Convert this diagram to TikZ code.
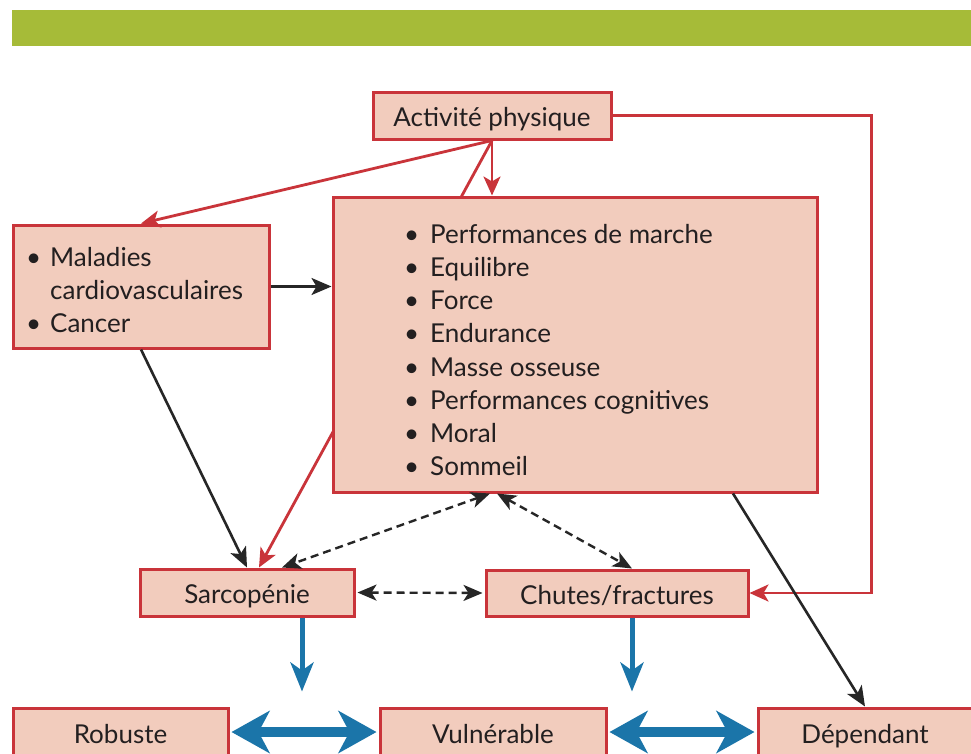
\documentclass[tikz,border=0pt]{standalone}
\usepackage{fontspec}
\setmainfont{Lato}
\usetikzlibrary{arrows.meta}
\definecolor{boxred}{HTML}{C9343A}
\definecolor{boxfill}{HTML}{F2CCBD}
\definecolor{barG}{HTML}{A6BB38}
\definecolor{arrB}{HTML}{1B75A9}
\definecolor{txt}{HTML}{231F20}
\begin{document}
\begin{tikzpicture}[x=1pt,y=-1pt,
  box/.style={draw=boxred, fill=boxfill, line width=3pt, inner sep=0pt, text=txt, text height=24pt, text depth=2pt, font=\fontsize{26}{33}\selectfont},
  listtext/.style={inner sep=0pt, text=txt, align=left, font=\fontsize{26}{33.2}\selectfont},
  redarr/.style={draw=boxred, line width=2.8pt, -{Stealth[length=19pt,width=17pt,inset=5pt]}},
  blkarr/.style={draw=black!85, line width=2.6pt, -{Stealth[length=20pt,width=17pt,inset=5pt]}},
  dasharr/.style={draw=black!85, line width=2.4pt, dash pattern=on 8pt off 5pt, {Stealth[length=19pt,width=16pt,inset=5pt]}-{Stealth[length=19pt,width=16pt,inset=5pt]}},
  bluev/.style={draw=arrB, line width=5pt, -{Stealth[length=29pt,width=23pt,inset=8pt]}},
  blueh/.style={draw=arrB, line width=9.5pt, {Stealth[length=38pt,width=42pt,inset=11pt]}-{Stealth[length=38pt,width=42pt,inset=11pt]}},
]
\clip (0,0) rectangle (971,753);
\fill[white] (0,0) rectangle (971,753);
\fill[barG] (12,10) rectangle (971,46);

\node[box, minimum width=238pt, minimum height=47pt] (ap) at (492,115.5) {Activité physique};
\node[box, minimum width=256pt, minimum height=123pt, text height=, text depth=] (mal) at (141,286.5) {};
\node[listtext, anchor=west] (maltext) at (26,290) {\makebox[24pt][l]{\textbullet}Maladies\\\hspace*{24pt}cardiovasculaires\\\makebox[24pt][l]{\textbullet}Cancer};
\node[box, minimum width=214pt, minimum height=47pt] (sarc) at (247,592.5) {Sarcopénie};
\node[box, minimum width=262pt, minimum height=46pt] (chutes) at (617,593) {Chutes/fractures};
\node[box, minimum width=215pt, minimum height=48pt] (rob) at (120.5,732) {Robuste};
\node[box, minimum width=226pt, minimum height=48pt] (vul) at (493,732) {Vulnérable};
\node[box, minimum width=214pt, minimum height=48pt] (dep) at (865,732) {Dépendant};

% red line from activity to sarcopenia, passing behind the large box
\draw[redarr] (ap.south) -- ([xshift=12pt]sarc.north);

\node[box, minimum width=484pt, minimum height=295pt, text height=, text depth=] (big) at (575,344.5) {};
\node[listtext, anchor=west] (bigtext) at (404,350) {\makebox[26pt][l]{\textbullet}Performances de marche\\\makebox[26pt][l]{\textbullet}Equilibre\\\makebox[26pt][l]{\textbullet}Force\\\makebox[26pt][l]{\textbullet}Endurance\\\makebox[26pt][l]{\textbullet}Masse osseuse\\\makebox[26pt][l]{\textbullet}Performances cognitives\\\makebox[26pt][l]{\textbullet}Moral\\\makebox[26pt][l]{\textbullet}Sommeil};

% red connectors
\draw[redarr] (ap.south) -- (ap.south |- big.north);
\draw[redarr] (ap.south) -- (mal.north);
\draw[redarr] (ap.east) -- ++(259,0) |- (chutes.east);

% black connectors
\draw[blkarr] (mal.east) -- (mal.east -| big.west);
\draw[blkarr] (mal.south) -- (sarc.north);
\draw[blkarr] ([xshift=158pt]big.south) -- (dep.north);

% dashed double arrows
\draw[dasharr] ([xshift=-85pt]big.south) -- ([xshift=35pt]sarc.north);
\draw[dasharr] ([xshift=-78pt]big.south) -- ([xshift=15pt]chutes.north);
\draw[dasharr, shorten <=2pt, shorten >=2pt] (sarc.east) -- (chutes.west);

% blue arrows
\draw[bluev] ([xshift=55pt]sarc.south) -- ++(0,74);
\draw[bluev] ([xshift=15pt]chutes.south) -- ++(0,74);
\draw[blueh, shorten <=2pt, shorten >=2pt] (rob.east) -- (vul.west);
\draw[blueh, shorten <=2pt, shorten >=2pt] (vul.east) -- (dep.west);
\end{tikzpicture}
\end{document}
